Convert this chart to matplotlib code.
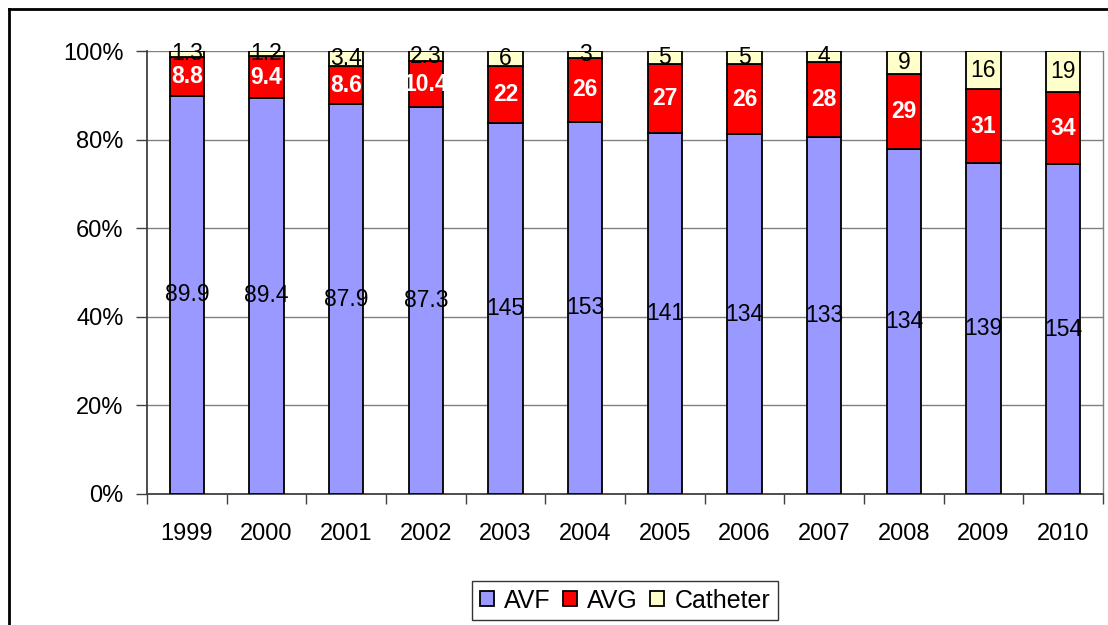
import matplotlib
matplotlib.use("Agg")
import matplotlib.pyplot as plt
from matplotlib.lines import Line2D
import numpy as np

years = ["1999", "2000", "2001", "2002", "2003", "2004", "2005", "2006", "2007", "2008", "2009", "2010"]
avf = [89.9, 89.4, 87.9, 87.3, 145, 153, 141, 134, 133, 134, 139, 154]
avg = [8.8, 9.4, 8.6, 10.4, 22, 26, 27, 26, 28, 29, 31, 34]
cath = [1.3, 1.2, 3.4, 2.3, 6, 3, 5, 5, 4, 9, 16, 19]
avf_lbl = ["89.9", "89.4", "87.9", "87.3", "145", "153", "141", "134", "133", "134", "139", "154"]
avg_lbl = ["8.8", "9.4", "8.6", "10.4", "22", "26", "27", "26", "28", "29", "31", "34"]
cath_lbl = ["1.3", "1.2", "3.4", "2.3", "6", "3", "5", "5", "4", "9", "16", "19"]

plt.rcParams['font.family'] = ['Liberation Sans', 'DejaVu Sans']

fig = plt.figure(figsize=(11.08, 6.25), dpi=100)
W, H = 1108, 625
ax = fig.add_axes([147 / W, 1 - 494 / H, (1103 - 147) / W, (494 - 51) / H])

a = np.array(avf, float); g = np.array(avg, float); c = np.array(cath, float)
tot = a + g + c
pa, pg, pc = a / tot * 100, g / tot * 100, c / tot * 100
x = np.arange(len(years))
bw = 0.43
kw = dict(width=bw, edgecolor='black', linewidth=1.3, zorder=3)
b1 = ax.bar(x, pa, color='#9999FF', label='AVF', **kw)
b2 = ax.bar(x, pg, bottom=pa, color='#FF0000', label='AVG', **kw)
b3 = ax.bar(x, pc, bottom=pa + pg, color='#FFFFCC', label='Catheter', **kw)

fs = 17
lfs = 16.5
for i in range(len(x)):
    ax.text(x[i], pa[i] / 2, avf_lbl[i], ha='center', va='center', fontsize=lfs, color='black', zorder=5)
    ax.text(x[i], pa[i] + pg[i] / 2, avg_lbl[i], ha='center', va='center', fontsize=lfs, color='white', fontweight='bold', zorder=5)
    ax.text(x[i], pa[i] + pg[i] + pc[i] / 2, cath_lbl[i], ha='center', va='center', fontsize=lfs, color='black', zorder=5)

ax.set_xlim(-0.5, len(x) - 0.5)
ax.set_ylim(0, 100)
ax.set_yticks([0, 20, 40, 60, 80, 100])
ax.set_yticklabels(["0%", "20%", "40%", "60%", "80%", "100%"], fontsize=fs)
ax.set_xticks(x)
ax.set_xticklabels(years, fontsize=fs)
ax.set_xticks(np.arange(-0.5, len(x), 1), minor=True)
ax.tick_params(axis='x', which='major', length=0, pad=21)
ax.tick_params(axis='x', which='minor', length=7, width=1, color='#404040', direction='out')
ax.tick_params(axis='y', length=8, width=1, color='#404040', pad=9)
ax.yaxis.grid(True, color='#808080', linewidth=1, zorder=0)
for s in ['top', 'right']:
    ax.spines[s].set_color('#808080')
    ax.spines[s].set_linewidth(1)
ax.spines['top'].set_visible(False)
for s in ['left', 'bottom']:
    ax.spines[s].set_color('#404040')
    ax.spines[s].set_linewidth(1.3)

leg = fig.legend(handles=[b1, b2, b3], loc='center', bbox_to_anchor=(625 / W, 1 - 600.5 / H),
                 ncol=3, frameon=True, fancybox=False, fontsize=18,
                 handlelength=0.56, handleheight=0.56, handletextpad=0.4, columnspacing=0.5,
                 borderpad=0.3, borderaxespad=0, edgecolor='black')
leg.get_frame().set_linewidth(1)

# outer frame (top and left visible in reference)
fig.add_artist(Line2D([9 / W, 9 / W], [0, 1 - 9 / H], transform=fig.transFigure, color='black', linewidth=2))
fig.add_artist(Line2D([9 / W, 1], [1 - 9 / H, 1 - 9 / H], transform=fig.transFigure, color='black', linewidth=2))

fig.savefig("out.png", dpi=100)
